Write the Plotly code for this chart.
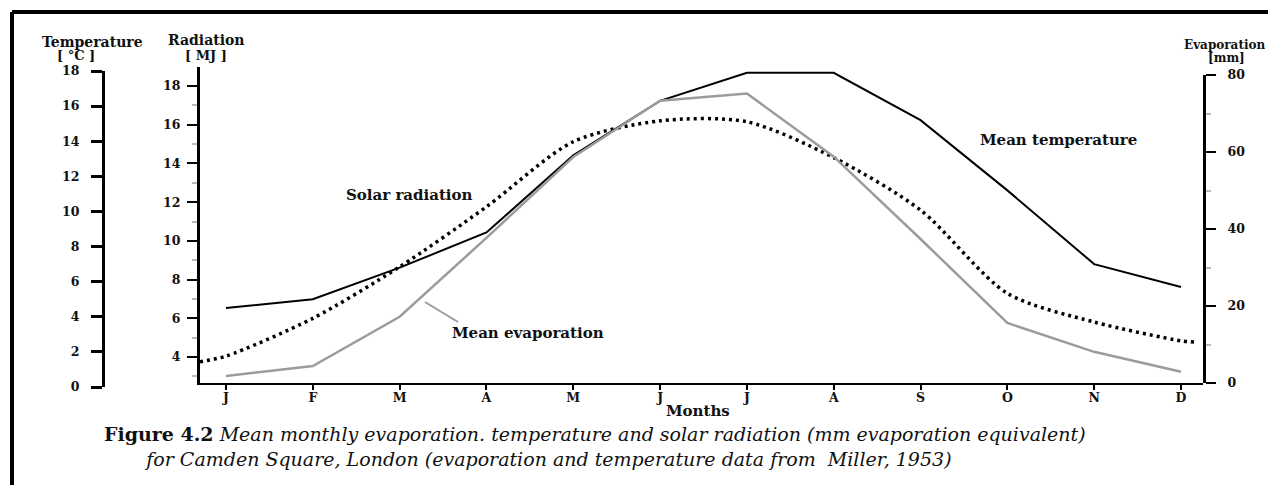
import plotly.graph_objects as go

# monthly values
months = ['J', 'F', 'M', 'A', 'M', 'J', 'J', 'A', 'S', 'O', 'N', 'D']
month_pos = [1, 2, 3, 4, 5, 6, 7, 8, 9, 10, 11, 12]

temperature = [4.5, 5.0, 6.8, 8.8, 13.2, 16.3, 17.9, 17.9, 15.2, 11.2, 7.0, 5.7]   # deg C
evaporation = [1.8, 4.4, 17.2, 37.7, 58.7, 73.3, 75.2, 58.8, 37.4, 15.6, 8.1, 2.9]  # mm
# solar radiation curve runs from edge to edge of the plot
radiation_pos = [0.70, 1, 2, 3, 4, 5, 6, 7, 8, 9, 10, 11, 12, 12.16]
radiation = [3.76, 4.05, 6.0, 8.66, 11.76, 15.12, 16.2, 16.15, 14.3, 11.59, 7.29, 5.81, 4.84, 4.77]  # MJ

# page body has an 8px margin, so the figure is a bit smaller and shifted
OFF = 8
W, H = 1260, 477
SERIF = 'DejaVu Serif'


def px(x):
    return (x - OFF) / W


def py(y):
    return 1 - (y - OFF) / H


fig = go.Figure()
fig.add_trace(go.Scatter(x=month_pos, y=evaporation, yaxis='y3', mode='lines',
                         line=dict(color='#9c9c9c', width=2.5), name='Mean evaporation'))
fig.add_trace(go.Scatter(x=radiation_pos, y=radiation, yaxis='y2', mode='lines',
                         line=dict(color='black', width=3.5, dash='3px,4px', shape='spline', smoothing=0.8),
                         name='Solar radiation'))
fig.add_trace(go.Scatter(x=month_pos, y=temperature, yaxis='y', mode='lines',
                         line=dict(color='black', width=2), name='Mean temperature'))

tickfont = dict(family=SERIF, size=12.5, color='#111', weight='bold')

fig.update_layout(
    width=W, height=H, showlegend=False,
    margin=dict(l=0, r=0, t=0, b=0, autoexpand=False),
    paper_bgcolor='white', plot_bgcolor='rgba(0,0,0,0)',
    xaxis=dict(domain=[px(200), px(1203)], range=[0.7005, 12.2535], anchor='y2',
               tickvals=month_pos, ticktext=months, tickfont=tickfont, automargin=False,
               ticklabelstandoff=-3,
               showline=True, linewidth=2, linecolor='black',
               ticks='outside', ticklen=5, tickwidth=2, tickcolor='black',
               showgrid=False, zeroline=False),
    yaxis=dict(domain=[py(387), py(71)], range=[0, 18], anchor='free', position=px(103),
               dtick=2, tickfont=tickfont, ticklabelstandoff=9, automargin=False,
               showline=True, linewidth=3, linecolor='black',
               ticks='outside', ticklen=11, tickwidth=2.5, tickcolor='black',
               showgrid=False, zeroline=False),
    yaxis2=dict(domain=[py(383), py(67)], range=[2.66, 18.98], anchor='x', side='left',
                tick0=0, dtick=2, tickfont=tickfont, ticklabelstandoff=4, automargin=False,
                showline=True, linewidth=3, linecolor='black',
                ticks='outside', ticklen=10, tickwidth=2, tickcolor='black',
                minor=dict(dtick=1, ticks='outside', ticklen=5, tickwidth=2, tickcolor='#bbbbbb'),
                showgrid=False, zeroline=False),
    yaxis3=dict(domain=[py(383), py(75)], range=[0, 80], anchor='x', side='right',
                dtick=20, tickfont=tickfont, ticklabelstandoff=9, automargin=False,
                showline=True, linewidth=3, linecolor='black',
                ticks='outside', ticklen=10, tickwidth=2, tickcolor='black',
                minor=dict(dtick=10, ticks='outside', ticklen=5, tickwidth=2, tickcolor='#bbbbbb'),
                showgrid=False, zeroline=False),
)

labels = [
    ('Temperature', 92, 42, 14),
    ('[ °C ]', 76, 56, 13),
    ('Radiation', 206, 40, 14),
    ('[ MJ ]', 206, 55, 13),
    ('Evaporation', 1224, 45, 12),
    ('[mm]', 1226, 58, 12),
    ('Months', 698, 411, 15),
    ('Solar radiation', 410, 195, 15),
    ('Mean evaporation', 528, 333, 15),
    ('Mean temperature', 1058, 140, 15),
]
for text, x, y, size in labels:
    fig.add_annotation(text='<b>%s</b>' % text, x=px(x), y=py(y), xref='paper', yref='paper',
                       showarrow=False, xanchor='center', yanchor='middle',
                       font=dict(family=SERIF, size=size, color='#111'))

# two-line caption, second line indented
caption = ('<b>Figure 4.2</b> <i>Mean monthly evaporation. temperature and solar radiation '
           '(mm evaporation equivalent)</i><br>' + '\u00a0' * 7 +
           '<i>for Camden Square, London (evaporation and temperature data from  Miller, 1953)</i>')
fig.add_annotation(text=caption, x=px(102), y=py(446), xref='paper', yref='paper', showarrow=False,
                   xanchor='left', yanchor='middle', align='left',
                   font=dict(family=SERIF, size=19, color='#111'))

# leader line for the evaporation label, and the frame
fig.add_shape(type='line', xref='paper', yref='paper', x0=px(425), y0=py(302), x1=px(458), y1=py(322),
              line=dict(color='#9c9c9c', width=2))
fig.add_shape(type='line', xref='paper', yref='paper', x0=px(12), y0=py(12), x1=1, y1=py(12),
              line=dict(color='black', width=4))
fig.add_shape(type='line', xref='paper', yref='paper', x0=px(12), y0=py(12), x1=px(12), y1=0,
              line=dict(color='black', width=4))

fig.write_html("out.html")
